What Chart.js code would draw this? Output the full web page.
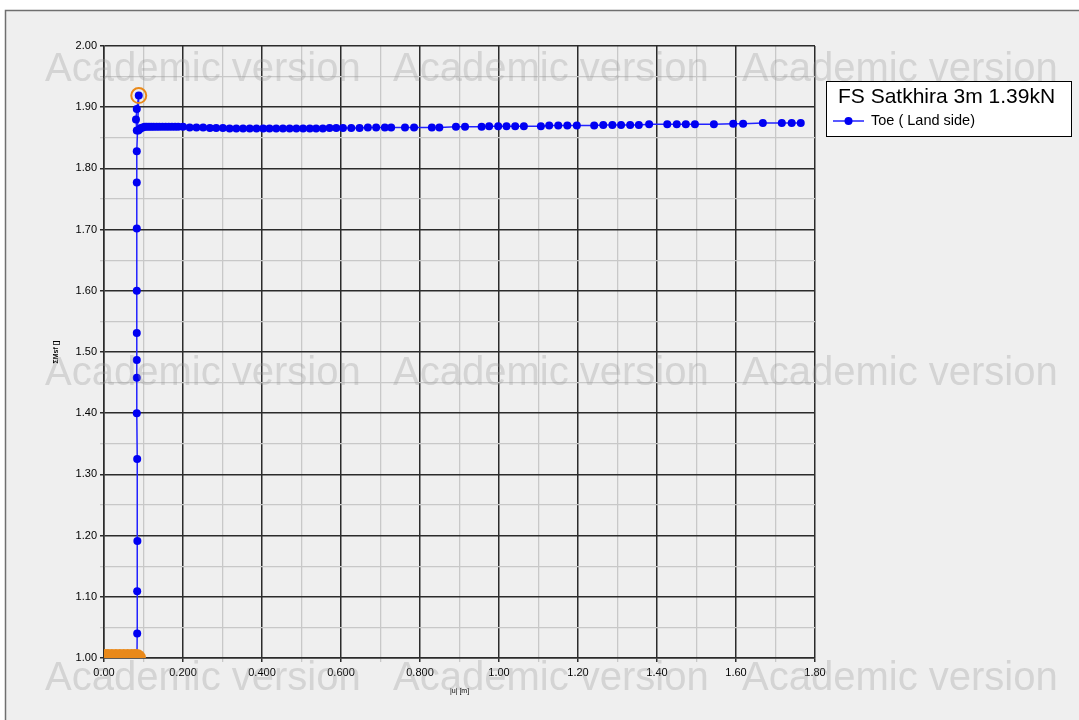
<!DOCTYPE html>
<html>
<head>
<meta charset="utf-8">
<script src="https://cdn.jsdelivr.net/npm/chart.js@4/dist/chart.umd.min.js"></script>
<style>
  html, body { margin: 0; padding: 0; background: #ffffff; }
  #wrap { width: 1079px; height: 720px; }
</style>
</head>
<body>
<div id="wrap"><canvas id="c" width="1079" height="720"></canvas></div>
<script>
// Curve title and series name
const chartTitle = 'FS Satkhira 3m 1.39kN';
const seriesName = 'Toe ( Land side)';

// Tick labels (major ticks only)
const xTickLabels = ['0.00', '0.200', '0.400', '0.600', '0.800', '1.00', '1.20', '1.40', '1.60', '1.80'];
const yTickLabels = ['1.00', '1.10', '1.20', '1.30', '1.40', '1.50', '1.60', '1.70', '1.80', '1.90', '2.00'];

// Toe displacement |u| [m] and safety multiplier ΣMsf []
const toeX = [
  0.000, 0.020, 0.040, 0.060, 0.075, 0.0835,
  0.0840, 0.0840, 0.0845, 0.0840, 0.0830, 0.0830, 0.0830, 0.0830, 0.0830, 0.0830, 0.0830, 0.0830,
  0.0880, 0.0830, 0.0810, 0.0830,
  0.087, 0.090, 0.094, 0.098, 0.103, 0.108, 0.114, 0.120, 0.126, 0.133, 0.140, 0.148, 0.156, 0.164, 0.172, 0.180, 0.188,
  0.200, 0.217, 0.234, 0.251, 0.268, 0.284, 0.301, 0.318, 0.335, 0.352, 0.369, 0.386, 0.403, 0.419, 0.436, 0.453,
  0.470, 0.487, 0.504, 0.521, 0.537, 0.554, 0.571, 0.588, 0.605, 0.626, 0.647, 0.668, 0.689, 0.711, 0.727,
  0.762, 0.785, 0.830, 0.849, 0.891, 0.914, 0.956, 0.975, 0.998, 1.019, 1.041, 1.063, 1.106, 1.127, 1.150,
  1.173, 1.197, 1.241, 1.264, 1.287, 1.309, 1.332, 1.354, 1.380, 1.426, 1.450, 1.473, 1.496, 1.544, 1.593,
  1.618, 1.668, 1.716, 1.741, 1.764
];
const toeY = [
  1.000, 1.000, 1.000, 1.000, 1.000, 1.002,
  1.040, 1.109, 1.191, 1.325, 1.400, 1.458, 1.487, 1.531, 1.600, 1.702, 1.777, 1.828,
  1.919, 1.897, 1.880, 1.862,
  1.862, 1.864, 1.866, 1.867, 1.868, 1.868, 1.868, 1.868, 1.868, 1.868, 1.868, 1.868, 1.868, 1.868, 1.868, 1.868, 1.868,
  1.868, 1.867, 1.867, 1.867, 1.866, 1.866, 1.866, 1.865, 1.865, 1.865, 1.865, 1.865, 1.865, 1.865, 1.865, 1.865,
  1.865, 1.865, 1.865, 1.865, 1.865, 1.865, 1.866, 1.866, 1.866, 1.866, 1.866, 1.867, 1.867, 1.867, 1.867,
  1.867, 1.867, 1.867, 1.867, 1.868, 1.868, 1.868, 1.869, 1.869, 1.869, 1.869, 1.869, 1.869, 1.870, 1.870,
  1.870, 1.870, 1.870, 1.871, 1.871, 1.871, 1.871, 1.871, 1.872, 1.872, 1.872, 1.872, 1.872, 1.872, 1.873,
  1.873, 1.874, 1.874, 1.874, 1.874
];

// Initial load steps, highlighted
const stageX = [0.000, 0.010, 0.020, 0.030, 0.040, 0.050, 0.060, 0.070, 0.078, 0.0835];
const stageY = [1.000, 1.000, 1.000, 1.000, 1.000, 1.000, 1.000, 1.000, 1.000, 1.000];

// Peak of the curve, highlighted
const peakX = [0.0880];
const peakY = [1.919];

const toPts = (xs, ys) => xs.map((x, i) => ({ x: x, y: ys[i] }));

const BLUE_LINE = '#2222ff';
const BLUE_DOT = '#0000f2';
const ORANGE = '#e9891a';
const MAJOR = '#2b2b2b';
const MINOR = '#c8c8c8';
const FONT = '"Liberation Sans", Arial, sans-serif';

// Grey panel with a frame behind the plot
const panelPlugin = {
  id: 'panel',
  beforeDraw(chart) {
    const ctx = chart.ctx;
    ctx.save();
    ctx.fillStyle = '#ffffff';
    ctx.fillRect(0, 0, chart.width, chart.height);
    ctx.fillStyle = '#efefef';
    ctx.fillRect(5, 10, chart.width - 5, chart.height - 10);
    ctx.strokeStyle = '#6f6f6f';
    ctx.lineWidth = 1.5;
    ctx.beginPath();
    ctx.moveTo(5.5, chart.height);
    ctx.lineTo(5.5, 10.5);
    ctx.lineTo(chart.width, 10.5);
    ctx.stroke();
    ctx.restore();
  }
};

// Boxed legend at the upper right of the plot
const boxLegendPlugin = {
  id: 'boxLegend',
  afterDraw(chart) {
    const ctx = chart.ctx;
    const ds = chart.data.datasets.find(d => d.label === seriesName);
    const left = 826, top = 81, w = 245, h = 55;
    ctx.save();
    ctx.fillStyle = '#ffffff';
    ctx.fillRect(left, top, w, h);
    ctx.strokeStyle = '#000000';
    ctx.lineWidth = 1;
    ctx.strokeRect(left + 0.5, top + 0.5, w, h);
    ctx.fillStyle = '#000000';
    ctx.textBaseline = 'middle';
    ctx.textAlign = 'left';
    ctx.font = '21px ' + FONT;
    ctx.fillText(chartTitle, 838, 97);
    const ly = 121;
    ctx.strokeStyle = ds.borderColor;
    ctx.lineWidth = 1.5;
    ctx.beginPath();
    ctx.moveTo(833, ly);
    ctx.lineTo(864, ly);
    ctx.stroke();
    ctx.fillStyle = ds.pointBackgroundColor;
    ctx.beginPath();
    ctx.arc(848.5, ly, 4, 0, Math.PI * 2);
    ctx.fill();
    ctx.fillStyle = '#000000';
    ctx.font = '14.5px ' + FONT;
    ctx.fillText(ds.label, 871, ly);
    ctx.restore();
  }
};

// Licence watermark repeated over the drawing
const watermarkPlugin = {
  id: 'watermark',
  afterDraw(chart) {
    const ctx = chart.ctx;
    ctx.save();
    ctx.font = '40px ' + FONT;
    ctx.fillStyle = 'rgba(150,150,150,0.3)';
    ctx.textBaseline = 'alphabetic';
    ctx.textAlign = 'left';
    const cols = [45, 393, 742];
    const rows = [81, 385, 690];
    rows.forEach(y => cols.forEach(x => ctx.fillText('Academic version', x, y)));
    ctx.restore();
  }
};

const isMajorX = v => Math.round(v * 10) % 2 === 0;
const isMajorY = v => Math.round(v * 20) % 2 === 0;

new Chart(document.getElementById('c'), {
  type: 'scatter',
  data: {
    datasets: [
      {
        label: 'peak',
        data: toPts(peakX, peakY),
        showLine: false,
        pointRadius: 7.5,
        pointBorderWidth: 2,
        pointBorderColor: ORANGE,
        pointBackgroundColor: 'rgba(0,0,0,0)'
      },
      {
        label: 'stage',
        data: toPts(stageX, stageY),
        showLine: false,
        pointRadius: 9,
        pointBorderWidth: 0,
        pointBackgroundColor: ORANGE,
        pointBorderColor: ORANGE,
        clip: 0
      },
      {
        label: seriesName,
        data: toPts(toeX, toeY),
        showLine: true,
        borderColor: BLUE_LINE,
        borderWidth: 1.5,
        pointRadius: 4,
        pointBorderWidth: 0,
        pointBackgroundColor: BLUE_DOT,
        pointBorderColor: BLUE_DOT,
        tension: 0
      }
    ]
  },
  options: {
    responsive: false,
    animation: false,
    devicePixelRatio: 1,
    layout: { padding: { left: 0, right: 264, top: 46, bottom: 0 } },
    plugins: {
      legend: { display: false },
      tooltip: { enabled: false }
    },
    scales: {
      x: {
        type: 'linear',
        min: 0,
        max: 1.8,
        afterFit(scale) { scale.height = 62; },
        ticks: {
          stepSize: 0.1,
          autoSkip: false,
          maxRotation: 0,
          padding: 4,
          color: '#000000',
          font: { family: FONT, size: 11 },
          callback(v) {
            const k = Math.round(v * 10);
            return k % 2 === 0 ? xTickLabels[k / 2] : '';
          }
        },
        grid: {
          color: ctx => (isMajorX(ctx.tick.value) ? MAJOR : MINOR),
          lineWidth: ctx => (isMajorX(ctx.tick.value) ? 1.5 : 1.3),
          tickLength: 4,
          drawTicks: true
        },
        border: { display: true, color: MAJOR, width: 1.5 },
        title: {
          display: true,
          text: '|u| [m]',
          color: '#000000',
          font: { family: FONT, size: 7 },
          padding: { top: 0, bottom: 25 }
        }
      },
      y: {
        type: 'linear',
        min: 1.0,
        max: 2.0,
        afterFit(scale) { scale.width = 104; },
        ticks: {
          stepSize: 0.05,
          autoSkip: false,
          padding: 3,
          color: '#000000',
          font: { family: FONT, size: 11 },
          callback(v) {
            const k = Math.round(v * 20) - 20;
            return k % 2 === 0 ? yTickLabels[k / 2] : '';
          }
        },
        grid: {
          color: ctx => (isMajorY(ctx.tick.value) ? MAJOR : MINOR),
          lineWidth: ctx => (isMajorY(ctx.tick.value) ? 1.5 : 1.3),
          tickLength: 4,
          drawTicks: true
        },
        border: { display: true, color: MAJOR, width: 1.5 },
        title: {
          display: true,
          text: 'ΣMsf []',
          color: '#000000',
          font: { family: FONT, size: 7, weight: 'bold' },
          padding: { top: 52, bottom: 0 }
        }
      }
    }
  },
  plugins: [panelPlugin, boxLegendPlugin, watermarkPlugin]
});
</script>
</body>
</html>
